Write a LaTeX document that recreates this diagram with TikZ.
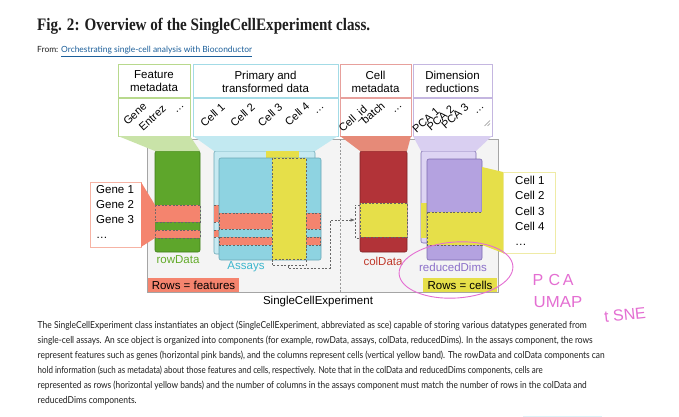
\documentclass[tikz,border=0pt]{standalone}
\usepackage{fontspec}
\setmainfont{Liberation Sans}
\newfontfamily\capfont{Lato}
\newfontfamily\titlefont{Liberation Serif}
\usetikzlibrary{arrows.meta}
\definecolor{gB}{HTML}{B8D98D}
\definecolor{cB}{HTML}{A3DBE6}
\definecolor{rB}{HTML}{E7A09C}
\definecolor{pB}{HTML}{C4B6E0}
\definecolor{gFun}{HTML}{C9E3A8}
\definecolor{cFun}{HTML}{C2E9F1}
\definecolor{rFun}{HTML}{E68A78}
\definecolor{pFun}{HTML}{D9CFF1}
\definecolor{sceFill}{HTML}{F4F4F4}
\definecolor{sceDraw}{HTML}{A5A5A5}
\definecolor{grn}{HTML}{5EA62B}
\definecolor{grnD}{HTML}{3F7C1C}
\definecolor{cyBack}{HTML}{C6E9F1}
\definecolor{cyFront}{HTML}{8ED3E1}
\definecolor{cyD}{HTML}{6BA8B6}
\definecolor{redC}{HTML}{B23338}
\definecolor{redD}{HTML}{7D2226}
\definecolor{puBack}{HTML}{DDD4F3}
\definecolor{puFront}{HTML}{B4A2E0}
\definecolor{puD}{HTML}{7E6CB0}
\definecolor{salmon}{HTML}{F4846E}
\definecolor{salmonL}{HTML}{F6B3A4}
\definecolor{yel}{HTML}{E6DF49}
\definecolor{yelL}{HTML}{EFEBA6}
\definecolor{gTxt}{HTML}{63AB2A}
\definecolor{cTxt}{HTML}{3CB6CD}
\definecolor{rTxt}{HTML}{C0392B}
\definecolor{pTxt}{HTML}{8B6FC9}
\definecolor{pen}{HTML}{E46ED2}
\definecolor{linkblue}{HTML}{1A5E9A}
\definecolor{captxt}{HTML}{1E1E1E}
\newcommand\fsz[2]{\fontsize{#1}{#2}\selectfont}
\begin{document}
\begin{tikzpicture}[x=1pt,y=-1pt,
  hbox/.style={draw=#1, line width=1, fill=white, inner sep=0, outer sep=0, align=center, font=\fsz{11.5}{13}},
  rot/.style={rotate=42, inner sep=0, font=\fsz{11}{12}},
  comp/.style={rectangle, rounded corners=2, line width=0.6, inner sep=0, outer sep=0},
  band/.style={draw=black!60, dashed, dash pattern=on 2pt off 1.6pt, line width=0.6},
  lbl/.style={inner sep=0, font=\fsz{11.5}{13}},
  dsh/.style={draw=black!60, dash pattern=on 2pt off 1.6pt, line width=0.6},
  capl/.style={anchor=base west, inner sep=0, text=captxt},
  hand/.style={text=pen, inner sep=0, font=\fsz{16}{18}}
]
\useasboundingbox (0,0) rectangle (679,417);
\fill[white] (0,0) rectangle (679,417);

% title and source
\node[anchor=base west, inner sep=0, text=captxt] (title) at (37,31)
  {\resizebox{333pt}{\height}{\titlefont\bfseries\fsz{17.5}{20}Fig. 2: Overview of the SingleCellExperiment class.}};
\node[anchor=base west, inner sep=0, text=captxt] (from) at (37,53)
  {\resizebox{215pt}{\height}{\capfont\fsz{8.5}{10}From: \textcolor{linkblue}{\underline{Orchestrating single-cell analysis with Bioconductor}}}};

% header boxes
\node[hbox=gB, minimum width=72, minimum height=33] (fmt) at (154,81.5) {Feature\\metadata};
\node[hbox=gB, minimum width=72, minimum height=37] (fml) at (154,117.5) {};
\node[hbox=cB, minimum width=145, minimum height=33] (pmt) at (265.5,81.5) {Primary and\\transformed data};
\node[hbox=cB, minimum width=145, minimum height=37] (pml) at (265.5,117.5) {};
\node[hbox=rB, minimum width=71, minimum height=33] (cmt) at (375.5,81.5) {Cell\\metadata};
\node[hbox=rB, minimum width=71, minimum height=37] (cml) at (375.5,117.5) {};
\node[hbox=pB, minimum width=79, minimum height=33] (dmt) at (452.5,81.5) {Dimension\\reductions};
\node[hbox=pB, minimum width=79, minimum height=37] (dml) at (452.5,117.5) {};

% rotated column labels
\node[rot] (l1) at (135,114) {Gene};
\node[rot] (l2) at (152.5,118) {Entrez};
\node[rot] (l3) at (180,109) {\dots};
\node[rot] (l4) at (212.5,115) {Cell 1};
\node[rot] (l5) at (242.5,115) {Cell 2};
\node[rot] (l6) at (270,115) {Cell 3};
\node[rot] (l7) at (297,114) {Cell 4};
\node[rot] (l8) at (320,110) {\dots};
\node[rot] (l9) at (353.5,119.5) {Cell\_id};
\node[rot] (l10) at (373,113) {batch};
\node[rot] (l11) at (398,109) {\dots};
\node[rot] (l12) at (426,120) {PCA 1};
\node[rot] (l13) at (440.5,118) {PCA 2};
\node[rot] (l14) at (455,116) {PCA 3};
\node[rot] (l15) at (480,110) {\dots};
\draw[black!45, line width=0.5] (484.5,126) -- (490,120.5) (487.5,126) -- (490,123.5);

% SCE container
\node[draw=sceDraw, fill=sceFill, line width=0.7, minimum width=351, minimum height=153, inner sep=0, outer sep=0] (sce) at (322.5,215.5) {};
\draw[dsh, draw=black!40] (340.5,139) coordinate (vtop) -- (340.5,292) coordinate (vbot);

% components (named)
\node[comp, draw=grnD, fill=grn, minimum width=45, minimum height=101] (rowD) at (177.5,201.5) {};
\node[comp, draw=cyD, fill=cyBack, minimum width=101, minimum height=103] (asB) at (264.5,202.5) {};
\node[comp, draw=redD, fill=redC, minimum width=47, minimum height=101] (colD) at (383.5,201.5) {};
\node[comp, draw=puD, fill=puBack, minimum width=55, minimum height=92] (rdB) at (448.5,197) {};

% funnels
\fill[gFun] (fml.south west) -- (fml.south east) -- (rowD.north east) -- (rowD.north west) -- cycle;
\fill[cFun] (pml.south west) -- (pml.south east) -- (asB.north east) -- (asB.north west) -- cycle;
\fill[rFun] (cml.south west) -- (cml.south east) -- (colD.north east) -- (colD.north west) -- cycle;
\fill[pFun] (dml.south west) -- (dml.south east) -- (rdB.north east) -- (rdB.north west) -- cycle;

% rowData bands
\draw[band, fill=salmon] (155,205) rectangle (200,222);
\draw[band, fill=salmon] (155,230) rectangle (200,238);

% assays back layer contents
\fill[salmon] (214.3,205) rectangle (314.7,222);
\fill[salmon] (214.3,230) rectangle (314.7,237);
\fill[yel] (266,151.3) rectangle (299,253.7);
\draw[dsh] (214.3,205) -- (266,205) (214.3,222) -- (266,222) (214.3,230) -- (266,230) (214.3,237) -- (266,237);
% assays front layer
\node[comp, draw=cyD, fill=cyFront, minimum width=102, minimum height=102] (asF) at (270,209) {};
\draw[band, fill=salmon] (219.3,213) rectangle (320.7,229);
\draw[band, fill=salmon] (219.3,237) rectangle (320.7,245);
\draw[band, fill=yel] (272,158.3) rectangle (306,259.7);
\draw[dsh] (272,259.7) -- (272,265.5) -- (306,265.5) -- (306,259.7);

% colData band
\draw[band, fill=yel] (360,203) rectangle (407,237);

% reducedDims
\fill[yel] (421.3,203) rectangle (475.7,238);
\node[comp, draw=puD, fill=puFront, minimum width=55, minimum height=101] (rdF) at (454.5,209.5) {};
\draw[band, fill=yel] (427,212) rectangle (482,245);

% arrow from assays to colData
\coordinate (arrS) at (288,265.5);
\coordinate (brk) at (355,220);
\draw[dsh, -{Latex[length=4.5pt,width=3.5pt]}] (arrS) |- (330,268) |- (brk);
\draw[dsh] (colD.west |- 0,205) -| (355,238) -- (colD.west |- 0,238);

% labels
\node[lbl, text=gTxt] (rowL) at (178,260) {rowData};
\node[lbl, text=cTxt] (asL) at (246,267) {Assays};
\node[lbl, text=rTxt] (colL) at (383,261) {colData};
\node[lbl, text=pTxt] (rdL) at (453,267) {reducedDims};
\node[fill=salmon, minimum width=91, minimum height=14, inner sep=0, font=\fsz{11.5}{13}] (rowsF) at (193.5,285) {Rows = features};
\node[fill=yel, minimum width=74, minimum height=14, inner sep=0, font=\fsz{11.5}{13}] (rowsC) at (460,285) {Rows = cells};
\node[lbl] (sceL) at (318,302) {SingleCellExperiment};

% gene list
\node[draw=salmonL, line width=1, fill=white, minimum width=51, minimum height=65, inner sep=0, outer sep=0] (genes) at (115.5,214.5) {};
\fill[salmon] (genes.north east) -- (rowD.west |- 0,205) -- (rowD.west |- 0,238) -- (genes.south east) -- cycle;
\node[anchor=north west, align=left, inner sep=0, font=\fsz{11.5}{15}] (gtxt) at (96,185) {Gene 1\\Gene 2\\Gene 3\\\dots};

% cell list
\node[draw=yelL, line width=1, fill=white, minimum width=52, minimum height=81, inner sep=0, outer sep=0] (cells) at (529,212.5) {};
\fill[yel] (rdF.east |- 0,167) -- (cells.north west) -- (cells.south west) -- (rdF.east |- 0,245) -- cycle;
\node[anchor=north west, align=left, inner sep=0, font=\fsz{11.5}{15.3}] (ctxt) at (515,176) {Cell 1\\Cell 2\\Cell 3\\Cell 4\\\dots};

% handwritten annotations
\draw[pen, line width=0.9, rotate around={4:(456,270)}] (456,270) ellipse (57 and 28);
\node[hand] (hPCA) at (553,280) {P\,\,C\,A};
\node[hand, xscale=1.05] (hUMAP) at (558,302) {UMAP};
\node[hand, rotate=6] (hTSNE) at (625,315) {t SNE};

% caption
\node[capl] (c1) at (37.5,328) {\resizebox{549pt}{\height}{\capfont\fsz{9.6}{11}The SingleCellExperiment class instantiates an object (SingleCellExperiment, abbreviated as sce) capable of storing various datatypes generated from}};
\node[capl] (c2) at (37.5,343) {\resizebox{555pt}{\height}{\capfont\fsz{9.6}{11}single-cell assays. An sce object is organized into components (for example, rowData, assays, colData, reducedDims). In the assays component, the rows}};
\node[capl] (c3) at (37.5,358) {\resizebox{567pt}{\height}{\capfont\fsz{9.6}{11}represent features such as genes (horizontal pink bands), and the columns represent cells (vertical yellow band). The rowData and colData components can}};
\node[capl] (c4) at (37.5,373) {\resizebox{505pt}{\height}{\capfont\fsz{9.6}{11}hold information (such as metadata) about those features and cells, respectively. Note that in the colData and reducedDims components, cells are}};
\node[capl] (c5) at (37.5,388) {\resizebox{549pt}{\height}{\capfont\fsz{9.6}{11}represented as rows (horizontal yellow bands) and the number of columns in the assays component must match the number of rows in the colData and}};
\node[capl] (c6) at (37.5,403) {\resizebox{99pt}{\height}{\capfont\fsz{9.6}{11}reducedDims components.}};

\fill[cyBack!60] (523,415.5) rectangle (602,417);
\end{tikzpicture}
\end{document}
